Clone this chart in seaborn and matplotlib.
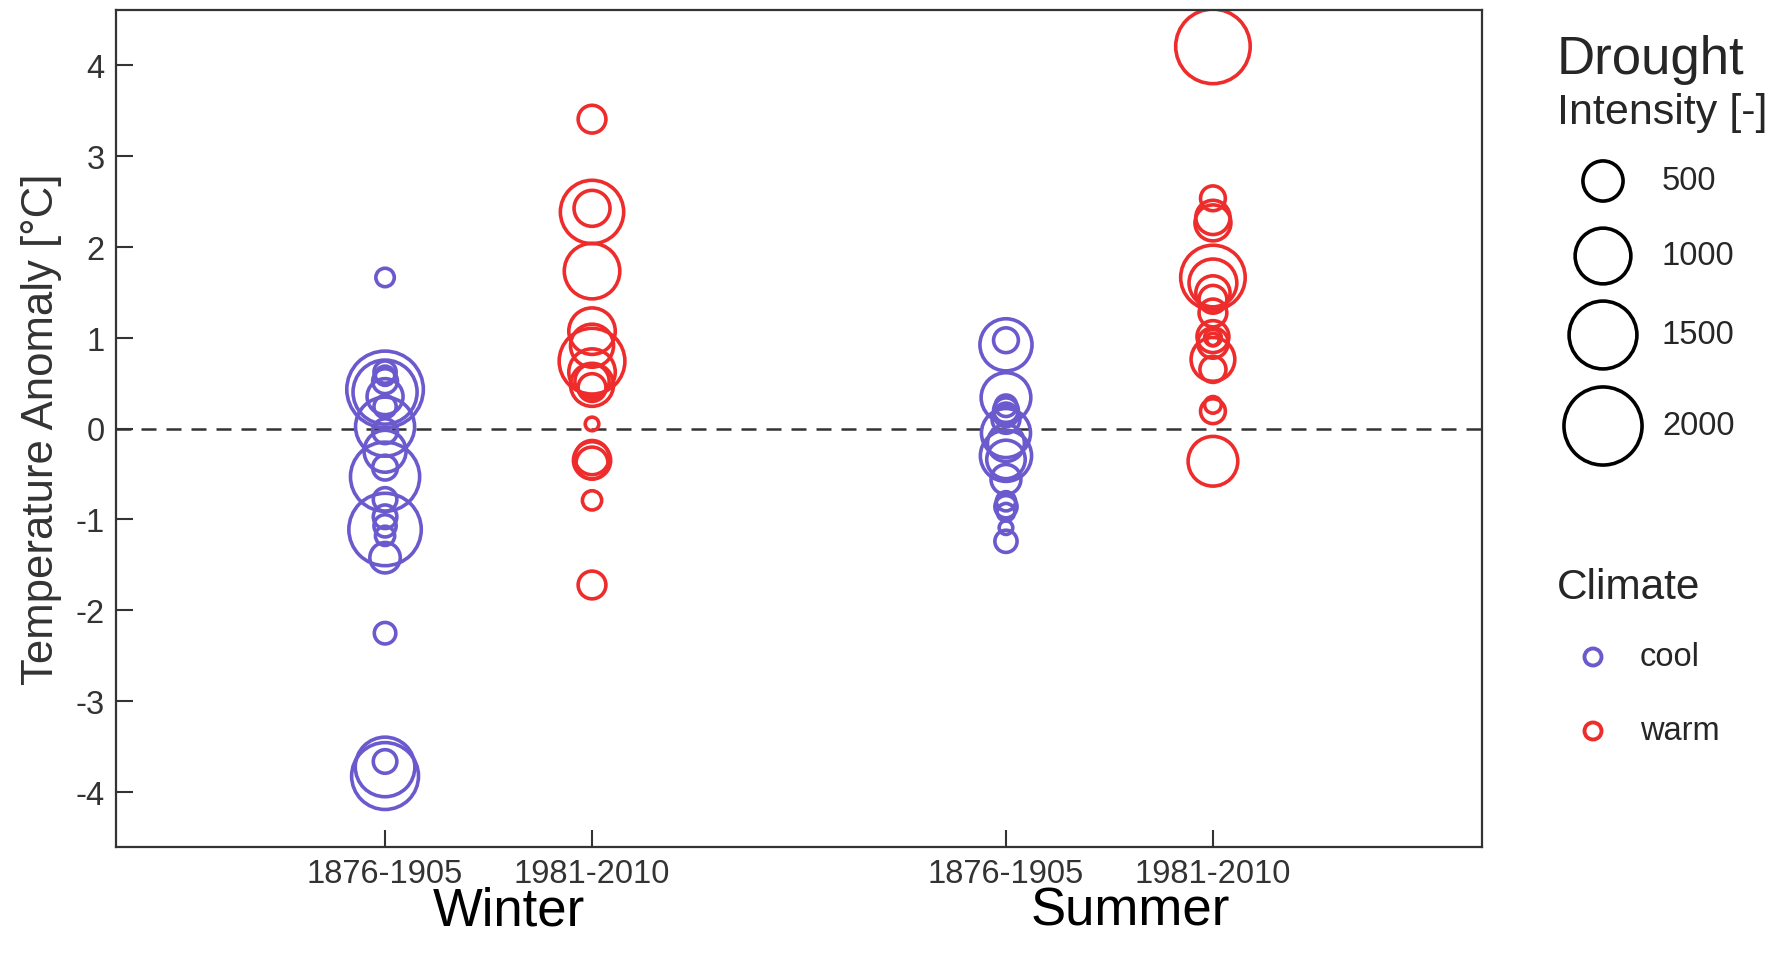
import matplotlib.pyplot as plt
import numpy as np
import pandas as pd
import seaborn as sns

# temperature anomaly [°C] and drought intensity [-]
winter_cool_temp = [1.66, 0.62, 0.58, 0.52, 0.43, 0.40, 0.35, 0.24, 0.02, -0.03, -0.25,
                    -0.43, -0.53, -0.78, -0.97, -1.07, -1.11, -1.18, -1.42, -2.25,
                    -3.66, -3.72, -3.82]
winter_cool_int = [75, 126, 85, 167, 1922, 1334, 394, 126, 1127, 167, 549,
                   167, 1561, 147, 147, 126, 1715, 85, 271, 116,
                   147, 1148, 1458]

winter_warm_temp = [3.40, 2.42, 2.38, 1.73, 1.07, 0.91, 0.74, 0.62, 0.52, 0.48, 0.45,
                    0.05, -0.32, -0.35, -0.38, -0.79, -1.72]
winter_warm_int = [219, 394, 1303, 993, 683, 580, 1406, 683, 353, 580, 219,
                   23, 353, 425, 302, 85, 219]

summer_cool_temp = [0.97, 0.92, 0.34, 0.25, 0.20, 0.15, 0.10, -0.05, -0.16, -0.30,
                    -0.34, -0.56, -0.80, -0.86, -0.92, -1.09, -1.24]
summer_cool_int = [167, 869, 787, 116, 167, 147, 219, 766, 415, 838,
                   456, 260, 85, 126, 64, 23, 126]

summer_warm_temp = [4.20, 2.53, 2.32, 2.26, 1.66, 1.60, 1.49, 1.42, 1.27, 1.01, 1.00,
                    0.98, 0.94, 0.76, 0.65, 0.26, 0.19, -0.36]
summer_warm_int = [1819, 167, 353, 394, 1354, 725, 353, 219, 219, 302, 54,
                   13, 271, 601, 188, 54, 167, 787]

seasons = ['Winter', 'Summer']
periods = ['1876-1905', '1981-2010']
climates = ['cool', 'warm']
legend_sizes = [500, 1000, 1500, 2000]

palette = {'cool': '#6A5ACD', 'warm': '#EE2C2C'}
size_range = (60, 3160)
size_norm = (0, 2000)

groups = [
    ('Winter', '1876-1905', 'cool', winter_cool_temp, winter_cool_int),
    ('Winter', '1981-2010', 'warm', winter_warm_temp, winter_warm_int),
    ('Summer', '1876-1905', 'cool', summer_cool_temp, summer_cool_int),
    ('Summer', '1981-2010', 'warm', summer_warm_temp, summer_warm_int),
]
frames = []
for season, period, climate, temp, inten in groups:
    frames.append(pd.DataFrame({'season': season, 'period': period, 'climate': climate,
                                'temp': temp, 'intensity': inten}))
df = pd.concat(frames, ignore_index=True)
# two periods side by side per season, a gap between seasons
df['pos'] = df.season.map({s: 3 * i for i, s in enumerate(seasons)}) + \
    df.period.map({p: i + 1 for i, p in enumerate(periods)})

sns.set_theme(style='white')
plt.rcParams['font.family'] = ['Liberation Sans', 'DejaVu Sans']
plt.rcParams['axes.unicode_minus'] = False

W, H = 1772, 954
fig = plt.figure(figsize=(W / 100, H / 100), dpi=100)
ax = fig.add_axes([116 / W, 1 - 848 / H, (1482 - 116) / W, (848 - 11) / H])

sns.scatterplot(data=df, x='pos', y='temp', hue='climate', size='intensity',
                sizes=size_range, size_norm=size_norm, palette=palette,
                legend=False, linewidth=2.6, ax=ax)
pts = ax.collections[0]
pts.set_edgecolors(pts.get_facecolors())
pts.set_facecolors('none')

ax.axhline(0, color='#333333', lw=1.8, ls=(0, (6, 4)), zorder=0.5)

ax.set_xlim(-0.3, 6.3)
ax.set_ylim(-4.6, 4.6)
ax.set_xticks([1, 2, 4, 5])
ax.set_xticklabels(periods * 2)
ax.set_yticks(range(-4, 5))
ax.tick_params(direction='in', length=12, width=1.5, color='#333333',
               labelsize=23.5, labelcolor='#333333', pad=8)
ax.tick_params(axis='x', bottom=True)
ax.tick_params(axis='y', left=True)
for sp in ax.spines.values():
    sp.set_visible(True)
    sp.set_color('#333333')
    sp.set_linewidth(1.6)
ax.set_xlabel('')
ax.set_ylabel('Temperature Anomaly [°C]', fontsize=31.5, color='#333333', labelpad=10)

for i, s in enumerate(seasons):
    ax.text(3 * i + 1.6, -0.093, s, transform=ax.get_xaxis_transform(),
            ha='center', va='baseline', fontsize=38, color='black')

# legend drawn in a pixel-space overlay
lax = fig.add_axes([0, 0, 1, 1])
lax.set_xlim(0, W)
lax.set_ylim(H, 0)
lax.axis('off')
lax.patch.set_alpha(0)

lax.text(1557, 60, 'Drought', fontsize=38, va='center', ha='left')
lax.text(1557, 113, 'Intensity [-]', fontsize=31, va='center', ha='left')
leg_y = [182, 257, 336, 427]
leg = pd.DataFrame({'x': 1603, 'y': leg_y, 'intensity': legend_sizes})
sns.scatterplot(data=leg, x='x', y='y', size='intensity', sizes=size_range,
                size_norm=size_norm, color='none', edgecolor='black',
                linewidth=2.6, legend=False, ax=lax)
lax.collections[-1].set_facecolors('none')
lax.collections[-1].set_edgecolors('black')
for y, v in zip(leg_y, legend_sizes):
    lax.text(1662, y, str(v), fontsize=23.5, va='center', ha='left')

lax.text(1557, 588, 'Climate', fontsize=30.5, va='center', ha='left')
for y, c in zip([658, 732], climates):
    lax.scatter([1593], [y], s=150, facecolors='none', edgecolors=palette[c], linewidths=2.8)
    lax.text(1640, y, c, fontsize=23.5, va='center', ha='left')
lax.set_xlim(0, W)
lax.set_ylim(H, 0)

fig.savefig('out.png', dpi=100)
